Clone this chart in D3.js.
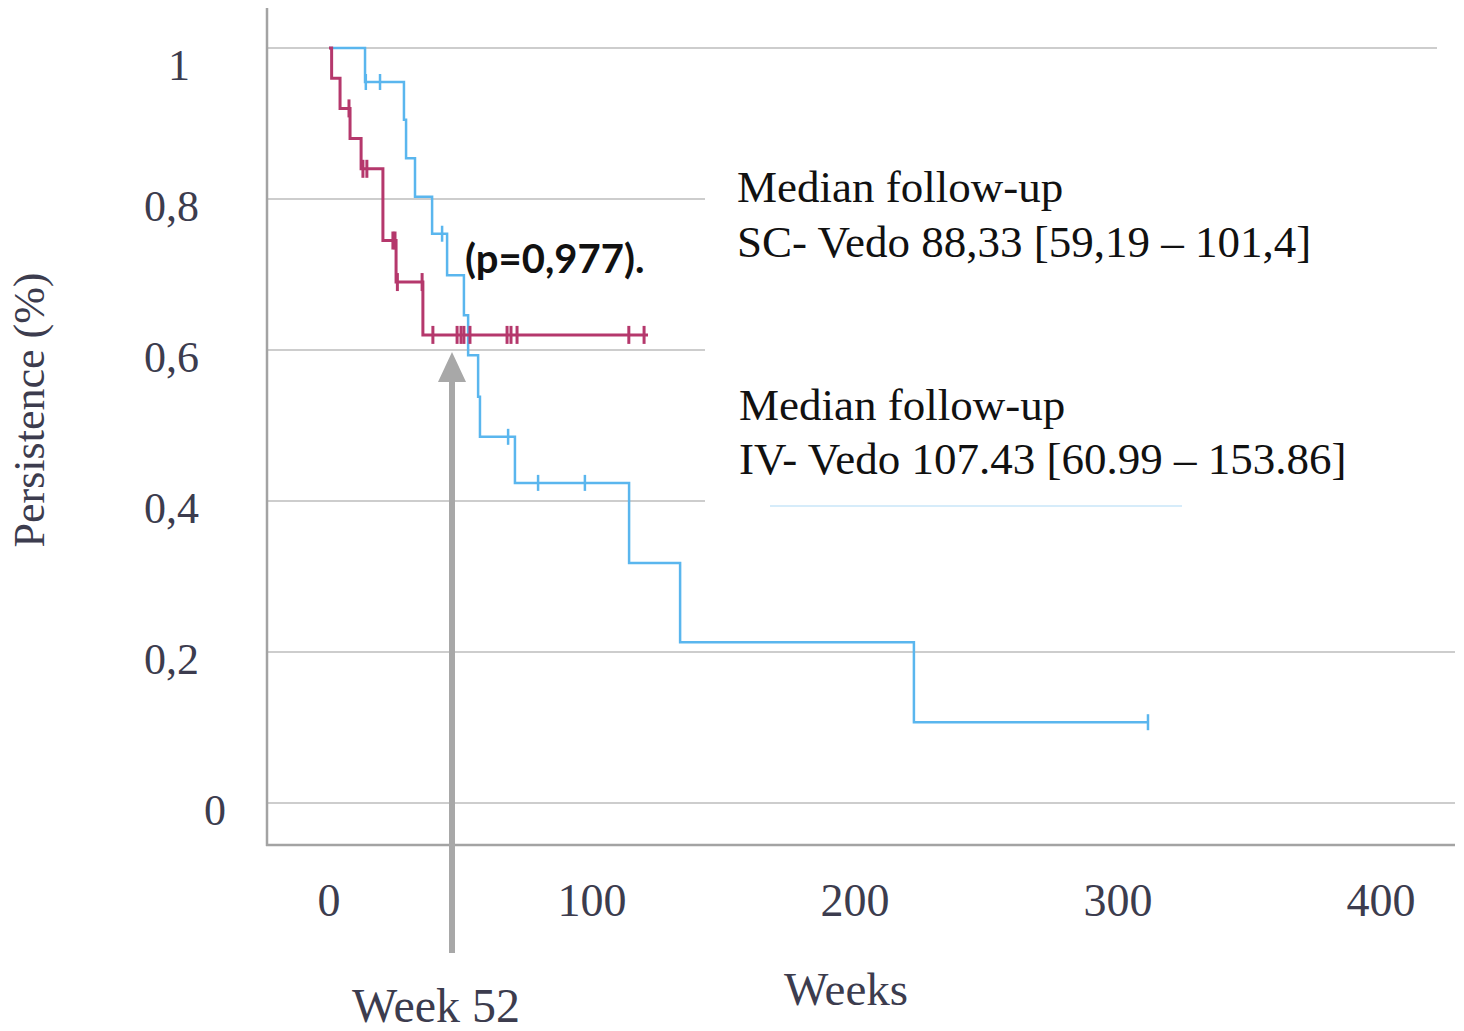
<!DOCTYPE html>
<html>
<head>
<meta charset="utf-8">
<script src="https://cdn.jsdelivr.net/npm/d3@7"></script>
<style>
  html, body { margin: 0; padding: 0; background: #fff; }
  svg { display: block; }
</style>
</head>
<body>
<div id="chart"></div>
<script>
// SC-Vedo (red) Kaplan-Meier steps
const scTimes = [0, 1, 4.2, 8, 12.2, 20.5, 25.5, 35.7];
const scSurv = [1, 0.96, 0.92, 0.88, 0.84, 0.745, 0.69, 0.62];
const scEnd = 121.3;
const scCensor = [7.6, 12.9, 14.4, 24.3, 25.1, 26, 35.4, 39.5, 48.7, 50.2, 51.3, 53.6, 67.7, 69.2, 71.5, 114, 119.8];

// IV-Vedo (blue) Kaplan-Meier steps
const ivTimes = [0, 13.7, 28.5, 29.3, 32.7, 39.2, 44.9, 51.3, 52.9, 56.7, 57.4, 70.7, 114.1, 133.5, 222.4];
const ivSurv = [1, 0.955, 0.905, 0.854, 0.803, 0.754, 0.699, 0.646, 0.593, 0.538, 0.485, 0.424, 0.318, 0.213, 0.107];
const ivEnd = 311.4;
const ivCensor = [14, 19.4, 43, 68.1, 79.5, 97.3, 311.4];

const xTicks = [0, 100, 200, 300, 400];
const yTicks = [0, 0.2, 0.4, 0.6, 0.8, 1];

const width = 1464;
const height = 1031;

const svg = d3.select("#chart")
  .append("svg")
  .attr("width", width)
  .attr("height", height);

const x = d3.scaleLinear().domain([0, 400]).range([329, 1381]);
const y = d3.scaleLinear().domain([0, 1]).range([803, 48]);

const serif = "'Liberation Serif', 'Times New Roman', serif";
const axisColor = "#3c3c4e";

// gridlines
svg.append("g")
  .selectAll("line")
  .data(yTicks)
  .join("line")
  .attr("x1", 267)
  .attr("x2", (d) => (d === 1 ? 1437 : 1455))
  .attr("y1", (d) => y(d))
  .attr("y2", (d) => y(d))
  .attr("stroke", "#cdcdcd")
  .attr("stroke-width", 2);

// axis frame
svg.append("line")
  .attr("x1", 267).attr("x2", 267)
  .attr("y1", 8).attr("y2", 846)
  .attr("stroke", "#a3a3a3").attr("stroke-width", 2.5);
svg.append("line")
  .attr("x1", 266).attr("x2", 1455)
  .attr("y1", 845).attr("y2", 845)
  .attr("stroke", "#a3a3a3").attr("stroke-width", 2.5);

// y tick labels (sit just under each gridline, as in the source)
svg.append("g")
  .selectAll("text")
  .data(yTicks)
  .join("text")
  .attr("x", (d) => (d === 0 ? 226 : d === 1 ? 190 : 199))
  .attr("y", (d) => y(d) + (d === 1 ? 32 : 22))
  .attr("text-anchor", "end")
  .attr("font-family", serif)
  .attr("font-size", 44)
  .attr("fill", axisColor)
  .text((d) => String(d).replace(".", ","));

// x tick labels
svg.append("g")
  .selectAll("text")
  .data(xTicks)
  .join("text")
  .attr("x", (d) => x(d))
  .attr("y", 916)
  .attr("text-anchor", "middle")
  .attr("font-family", serif)
  .attr("font-size", 46)
  .attr("fill", axisColor)
  .text((d) => d);

// axis titles
svg.append("text")
  .attr("transform", "translate(44, 410) rotate(-90)")
  .attr("text-anchor", "middle")
  .attr("font-family", serif)
  .attr("font-size", 44)
  .attr("fill", axisColor)
  .text("Persistence (%)");

svg.append("text")
  .attr("x", 846)
  .attr("y", 1005)
  .attr("text-anchor", "middle")
  .attr("font-family", serif)
  .attr("font-size", 47)
  .attr("fill", axisColor)
  .text("Weeks");

// annotation box (hides the gridlines behind the text)
svg.append("rect")
  .attr("x", 705).attr("y", 150)
  .attr("width", width - 705).attr("height", 365)
  .attr("fill", "#fff");

const notes = [
  ["Median follow-up", 737, 202],
  ["SC- Vedo 88,33 [59,19 – 101,4]", 737, 257],
  ["Median follow-up", 739, 420],
  ["IV- Vedo 107.43 [60.99 – 153.86]", 739, 474],
];
svg.append("g")
  .selectAll("text")
  .data(notes)
  .join("text")
  .attr("x", (d) => d[1])
  .attr("y", (d) => d[2])
  .attr("font-family", serif)
  .attr("font-size", 45)
  .attr("fill", "#111")
  .text((d) => d[0]);

svg.append("line")
  .attr("x1", 770).attr("x2", 1182)
  .attr("y1", 506).attr("y2", 506)
  .attr("stroke", "#d6ecfa").attr("stroke-width", 2);

// curves
const line = d3.line()
  .x((d) => x(d[0]))
  .y((d) => y(d[1]))
  .curve(d3.curveStepAfter);

function drawCurve(times, surv, end, censor, color, w, tick) {
  const pts = times.map((t, i) => [t, surv[i]]);
  pts.push([end, surv[surv.length - 1]]);
  svg.append("path")
    .datum(pts)
    .attr("d", line)
    .attr("fill", "none")
    .attr("stroke", color)
    .attr("stroke-width", w);

  svg.append("g")
    .selectAll("line")
    .data(censor)
    .join("line")
    .attr("x1", (d) => x(d))
    .attr("x2", (d) => x(d))
    .attr("y1", (d) => y(surv[d3.bisectRight(times, d) - 1]) - tick)
    .attr("y2", (d) => y(surv[d3.bisectRight(times, d) - 1]) + tick)
    .attr("stroke", color)
    .attr("stroke-width", w);
}

drawCurve(ivTimes, ivSurv, ivEnd, ivCensor, "#5ab6ee", 2.5, 8);
drawCurve(scTimes, scSurv, scEnd, scCensor, "#b5386c", 3, 9);

// week 52 arrow
const arrowX = 452;
svg.append("line")
  .attr("x1", arrowX).attr("x2", arrowX)
  .attr("y1", 953).attr("y2", 378)
  .attr("stroke", "#a8a8a8").attr("stroke-width", 6);
svg.append("path")
  .attr("d", `M${arrowX},352 L${arrowX + 14},382 L${arrowX - 14},382 Z`)
  .attr("fill", "#a8a8a8");

svg.append("text")
  .attr("x", 436)
  .attr("y", 1022)
  .attr("text-anchor", "middle")
  .attr("font-family", serif)
  .attr("font-size", 48)
  .attr("fill", axisColor)
  .text("Week 52");

// p value
svg.append("text")
  .attr("x", 465)
  .attr("y", 273)
  .attr("font-family", "Lato, 'Open Sans', sans-serif")
  .attr("font-weight", "bold")
  .attr("font-size", 40)
  .attr("fill", "#111")
  .text("(p=0,977).");
</script>
</body>
</html>
